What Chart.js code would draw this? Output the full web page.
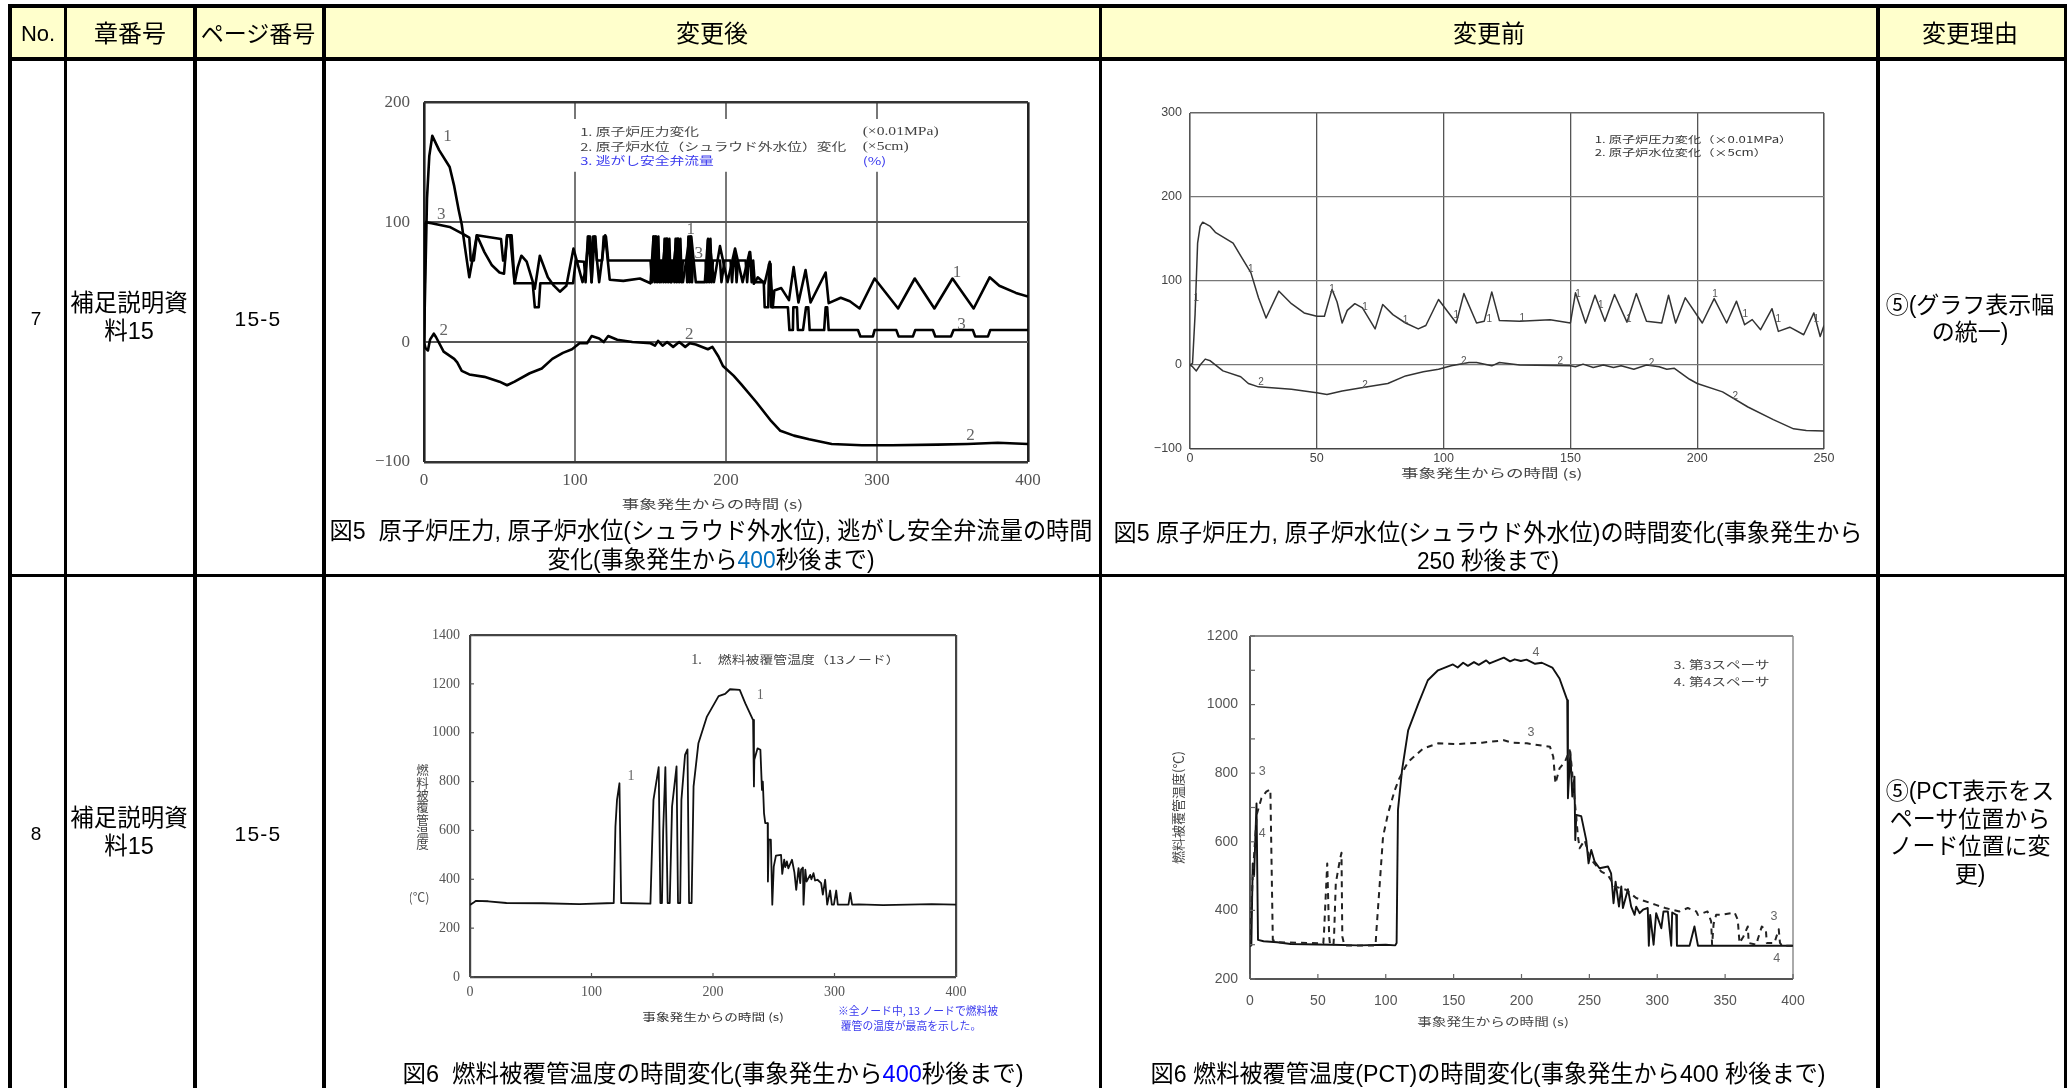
<!DOCTYPE html>
<html lang="ja"><head><meta charset="utf-8">
<script src="https://cdn.jsdelivr.net/npm/chart.js@4"></script>
<style>
html,body{margin:0;padding:0;background:#fff;width:2072px;height:1088px;overflow:hidden;font-family:"Liberation Sans","Noto Sans CJK JP",sans-serif;color:#000}
.b{position:absolute;background:#000}
.t{position:absolute;transform:translate(-50%,-50%);white-space:pre;line-height:1;filter:blur(.25px)}
canvas{position:absolute;display:block;filter:blur(.55px)}
</style></head><body>
<script>
// ---------- table ----------
const headers=["No.","章番号","ページ番号","変更後","変更前","変更理由"];
const rowNos=["7","8"];
const chapterLines=["補足説明資","料15"];
const pageRef="15-5";
const reason7=["⑤(グラフ表示幅","の統一)"];
const reason8=["⑤(PCT表示をス","ペーサ位置から","ノード位置に変","更)"];

// ---------- chart data: [time s, value] ----------
const pressure400=[[0,0],[1,60],[2,120],[3.5,155],[5.5,172],[7,168],[10,160],[17,146],[20,130],[23,110],[25,98],[27,80],[30,54],[35,89],[40,75],[45,64],[50,58],[53,57],[55,88],[57,89],[60,49],[62,62],[64.5,72],[68,67],[73.4,44.5],[76.7,72],[82,54],[86,47],[90,42],[94.3,47],[99,78],[105,50],[107,60],[109,88],[111,50],[113,88],[116,50],[118,70],[120,89],[123,52],[132,51],[143,53],[150,49],[152,88],[153.5,88],[157,50],[160,86],[161,86],[164,50],[167.3,86],[168.3,86],[171.5,50],[176,88],[177,88],[180,50],[186,50],[188,85],[189,85],[192,50],[196,80],[201,50],[206,78],[211,50],[215.6,75],[218.4,48.6],[221,54],[225.6,49],[229,67],[231,29],[232,43],[236.6,45],[241.7,35],[244.8,62.5],[248,33],[252.7,60],[256,33],[266,58],[268,32.5],[276,37],[282,34],[288.5,28],[298.4,53],[314,28],[325,53],[338,28],[350,53],[364,28],[374.6,54],[381,47],[392,41],[400,38]];
const level400=[[0,0],[1,-5],[2.6,-7],[4,2],[6.5,7],[8,4],[13,-8],[20,-14],[22,-17],[25,-24],[30,-27],[40,-29],[50,-33],[55,-36],[60,-33],[70,-26],[78,-22],[85,-14],[92,-9],[98,-6],[103,-1],[108,-1],[111,5],[116,3],[119,0],[122,5],[128,2],[138,0],[150,-1],[153,-3],[155,1],[158,-3],[161,0],[165,-4],[169,0],[173,-4],[176,-1],[180,-2],[188,-6],[191,-4],[195,-12],[198,-20],[205,-28],[210,-35],[220,-50],[230,-66],[236,-74],[245,-78],[255,-81],[270,-85],[290,-86],[310,-86],[340,-85.5],[360,-85],[380,-84],[400,-85]];
const srv400=[[0,0],[1,100],[5,99],[17,96],[26,90],[30,87],[31,68],[33,68],[35,89],[51,86],[52.4,68],[53.5,68],[55,89],[58,89],[60,49],[72,49],[73.4,29],[76,29],[77,49],[98.7,49],[100.5,67.5],[106,67],[107,50],[108.5,88],[110,88],[111,50],[112,88],[113.5,88],[114.5,68],[118,68],[119,88],[120.5,88],[122,68],[150,68],[151,50],[152,88],[152.8,50],[153.6,88],[154.4,50],[155.2,88],[156,50],[156.8,68],[157.5,68],[158.5,50],[159.3,86],[160.1,50],[160.9,86],[161.7,50],[162.5,86],[163.3,50],[164,68],[165,68],[165.8,50],[166.6,86],[167.4,50],[168.2,86],[169,50],[169.8,86],[170.6,50],[171.4,68],[173.5,68],[174.3,50],[175.1,88],[175.9,50],[176.7,88],[177.5,50],[178.3,68],[186.5,68],[187.3,50],[188.1,86],[188.9,50],[189.7,86],[190.5,50],[191.3,68],[196,68],[197,50],[199,68],[203,68],[204,50],[205,68],[206,75],[207,50],[208,68],[213,68],[214,50],[215,68],[216,75],[217,50],[218,68],[219,50],[222,50],[225,50],[225.6,29],[228,29],[228.5,65],[229.5,65],[230,29],[241,29],[242,10],[244.3,10],[244.6,29],[247,29],[247.6,10],[251,10],[253,29],[254.5,29],[255.4,10],[265,10],[266,29],[267,29],[268,10],[287.4,10],[289,4.7],[297.3,4.7],[298.4,10],[312.8,10],[314.3,4.7],[323.8,4.7],[325.3,10],[337,10],[338.6,4.7],[349,4.7],[350.7,10],[363.5,10],[365,4.7],[373.5,4.7],[375,10],[400,10]];

const pressure250=[[0,0],[1,2],[2,60],[3,145],[4,165],[5,170],[8,165],[10,158],[17,145],[20,130],[24,110],[27,80],[30,56],[35,88],[40,73],[45,62],[50,58],[53,58],[56,90],[58,75],[60,50],[62,65],[65,73],[68,68],[73,43],[76,72],[80,60],[85,50],[90,43],[93,47],[98,78],[105,50],[108,85],[113,50],[116,52],[119,87],[122,53],[130,52],[142,54],[150,50],[152,86],[156,50],[159.7,83],[163.6,52],[167.4,84],[172.3,51],[176,85],[180,52],[186,50],[188.7,83],[191.5,50],[195.3,80],[202,50],[206.7,79],[211.6,50],[215.5,76],[218.7,48],[221.7,54],[225,42],[229.5,67],[232,40],[236.5,45],[242,36],[246,62],[248.5,34],[250,47]];
const level250=[[0,0],[1,-2],[2.5,-7],[4,0],[6,7],[8,5],[13,-7],[20,-14],[23,-22],[27,-26],[40,-29],[50,-33],[54,-35],[60,-31],[70,-26],[78,-22],[85,-13],[92,-8],[98,-5],[103,-1],[110,3],[113,3],[119,-1],[122,3],[130,0],[150,-1],[152,-2],[155,1],[159,-3],[163,0],[167,-3],[170,-1],[175,-5],[180,0],[185,-2],[188,-5],[191,-4],[197,-17],[200,-22],[210,-32],[220,-50],[230,-65],[238,-76],[243,-78],[250,-78.5]];

const cladNode13=[[0,295],[3,305],[5,312],[15,310],[30,303],[60,302],[90,298],[118.3,303],[119.7,616],[121,725],[123,793],[124.4,303],[148.5,300],[150,562],[151,725],[155.3,859],[156.7,303],[158,303],[159,600],[160.8,859],[162.7,303],[164.4,303],[166.3,698],[170,862],[171.2,303],[173,303],[174,725],[177,909],[179,932],[180.3,303],[182.4,303],[184,780],[188,957],[195,1066],[204.6,1150],[210,1159],[214,1178],[222,1175],[226.6,1120],[233,1052],[233.7,780],[234,889],[236.7,936],[239,930],[240.3,766],[241,800],[242,670],[243,630],[245,630],[245.2,391],[246,562],[247.6,562],[248.8,296],[250,452],[251.8,497],[256,500],[257,422],[258.6,480],[259.5,450],[260.8,473],[262,445],[265,480],[267,428],[268.5,357],[270.4,446],[271.8,384],[272.5,440],[274,448],[274.5,296],[276,439],[277,391],[280,418],[281,400],[282.7,425],[284,395],[286,398],[289,384],[290.4,337],[292.3,398],[294,296],[296.4,354],[297.8,296],[299.5,296],[301.4,354],[302.7,296],[311.5,296],[313,344],[314.5,296],[320,297],[340,294],[360,296],[380,298],[400,296]];

const spacer4=[[0,296],[1,298],[2,537],[3,500],[4.8,712],[5.9,314],[10,310],[20,307],[30,302],[60,300],[80,298],[100,300],[107,298],[108,305],[109,693],[112,809],[116.5,925],[124,1003],[131,1071],[138.5,1100],[149.5,1117],[153,1108],[157,1122],[160.5,1113],[165,1124],[168.5,1116],[174,1129],[176.5,1120],[187,1137],[191.6,1126],[195,1132],[199.5,1127],[203.7,1131],[210,1119],[215,1122],[222.7,1108],[228,1076],[232,1032],[233.7,1013],[234.2,727],[236,862],[237.4,732],[239,790],[239.6,605],[240.4,678],[244,675],[247.7,605],[249.4,537],[251.4,576],[253.9,542],[257.5,523],[263.7,528],[266,508],[267.8,421],[269.3,484],[271.8,411],[273.5,470],[274.7,407],[278.4,462],[280.8,411],[283.3,387],[284.5,411],[287,392],[289.5,402],[293,407],[293.8,297],[294.8,387],[297.3,300],[299.2,392],[303,348],[304.6,397],[307.8,397],[310.3,297],[311,394],[314,387],[314.5,297],[323.8,297],[327.4,353],[330,297],[400,297]];
const spacer3=[[0,296],[2,500],[5,680],[8.4,727],[12,746],[15,753],[16.8,314],[20,307],[54,304],[54.5,334],[56.9,537],[58.3,324],[59,300],[61.5,300],[62,334],[63.2,479],[66.2,547],[67.4,568],[68,324],[69.5,298],[92.5,298],[93,334],[95.6,479],[98,615],[101.7,683],[106.7,751],[110,785],[114,815],[116.5,833],[127.5,872],[138.5,887],[153,885],[171,889],[187,896],[193,889],[204,887],[221,877],[223.4,848],[225,770],[228,814],[232,833],[235.5,867],[236.7,830],[241.6,615],[242.8,581],[246.5,605],[250,557],[253,540],[258.8,513],[263.7,503],[268.6,470],[277,460],[284.5,436],[289.4,429],[299,416],[306.6,406],[316.4,397],[322.5,407],[328.7,397],[330,387],[337,397],[339.7,368],[340.4,300],[341.5,360],[343.4,387],[347,387],[357,394],[359.3,373],[360.6,305],[363.5,324],[366.7,353],[367.4,305],[373,300],[374,315],[377,353],[380,344],[380.7,305],[386.3,305],[389.5,345],[390.4,305],[392,297],[400,297]];

// ---------- ticks ----------
const xTicks400=[0,100,200,300,400], yTicksA=[-100,0,100,200];
const xTicks250=[0,50,100,150,200,250], yTicksB=[-100,0,100,200,300];
const yTicksC=[0,200,400,600,800,1000,1200,1400];
const xTicksD=[0,50,100,150,200,250,300,350,400], yTicksD=[200,400,600,800,1000,1200];
const yMinorD=[300,500,700,900,1100];
const pen="#000";
const JP='"Noto Sans CJK JP"', SERIF='"Liberation Serif","Noto Sans CJK JP"', SANS='"Liberation Sans","Noto Sans CJK JP"';

// ---------- notes drawn at axis coordinates: [text, time, value] ----------
const tagsA=[["1",15.6,171],["3",11.4,106],["2",13,10],["1",176.6,94],["3",182,74],["2",175.6,6],["1",353,58],["3",356,15],["2",362,-78]];
const tagsB1=[["1",24,114],["1",2.5,79],["1",56,90],["1",69,69],["1",85,53],["1",105,59],["1",118,55],["1",131,56],["1",153,84],["1",162,71],["1",173,55],["1",207,84],["1",219,61],["1",232,54],["1",247,54]];
const tagsB2=[["2",28,-21],["2",69,-24],["2",108,5],["2",146,4],["2",182,2],["2",215,-37]];
const tagsC=[["1",132.5,823],["1",238.8,1152]];
const tagsD=[["3",9,804],["4",9,625],["4",210.6,1151],["3",207,918],["3",386,382],["4",388,259]];
const xTitle="事象発生からの時間 (s)";

const notes={
 id:"notes",
 beforeDatasetsDraw(c){
  const m=c.options.plugins.notes, o=c.ctx;
  if(m.mask){const X=c.scales.x,Y=c.scales.y,[a,b,d,e]=m.mask;
   o.save();o.fillStyle="#fff";o.fillRect(X.getPixelForValue(a),Y.getPixelForValue(b),X.getPixelForValue(d)-X.getPixelForValue(a),Y.getPixelForValue(e)-Y.getPixelForValue(b));o.restore();}
 },
 afterDraw(c){
  const m=c.options.plugins.notes, o=c.ctx, X=c.scales.x, Y=c.scales.y, A=c.chartArea;
  o.save();
  o.strokeStyle=m.tickColor||"#444";o.lineWidth=1.2;
  if(m.inward){
   for(const t of X.ticks){const p=X.getPixelForValue(t.value);o.beginPath();o.moveTo(p,A.bottom);o.lineTo(p,A.bottom-m.inward);o.stroke();}
   for(const t of Y.ticks.map(t=>t.value).concat(m.minor||[])){const p=Y.getPixelForValue(t);o.beginPath();o.moveTo(A.left,p);o.lineTo(A.left+m.inward,p);o.stroke();}
  }
  o.textBaseline="middle";
  for(const g of m.groups){
   o.font=g.font;o.fillStyle=g.color;o.textAlign=g.align||"center";
   for(const [s,t,v] of g.items){
    o.save();o.translate(X.getPixelForValue(t),Y.getPixelForValue(v));o.scale(g.sx||1,1);o.fillText(s,0,0);o.restore();
   }
  }
  if(m.stack){const g=m.stack;o.font=g.font;o.fillStyle=g.color;o.textAlign="center";
   [...g.text].forEach((ch,i)=>o.fillText(ch,X.getPixelForValue(g.t),Y.getPixelForValue(g.v)+i*g.step));}
  o.restore();
 }
};

function build(cfg){
 const pad={top:24,right:34},r=cfg.rect;
 const cv=document.createElement("canvas");
 const W=r[2]-r[0]+cfg.yW+pad.right, H=r[3]-r[1]+pad.top+cfg.xH;
 cv.width=W;cv.height=H;
 cv.style.left=(r[0]-cfg.yW)+"px";cv.style.top=(r[1]-pad.top)+"px";
 document.body.appendChild(cv);
 const gridOf=(lo,hi,ends,col)=>({
  drawTicks:false,
  color:c=>(c.tick&&(c.tick.value===lo))?ends.lo:(c.tick&&c.tick.value===hi)?ends.hi:col,
  lineWidth:c=>(c.tick&&(c.tick.value===lo||c.tick.value===hi))?cfg.frameW:cfg.gridW
 });
 new Chart(cv,{type:"line",
  data:{datasets:cfg.series.map(s=>({label:s.label,data:s.data.map(p=>({x:p[0],y:p[1]})),borderColor:s.color||pen,borderWidth:s.w,borderDash:s.dash||[],pointRadius:0,tension:0,fill:false,borderJoinStyle:"round",borderCapStyle:"butt"}))},
  plugins:[notes],
  options:{responsive:false,animation:false,devicePixelRatio:1,
   layout:{padding:{top:pad.top,right:pad.right,left:0,bottom:0}},
   plugins:{legend:{display:false},tooltip:{enabled:false},notes:cfg.notes},
   scales:{
    x:{type:"linear",min:cfg.xT[0],max:cfg.xT[cfg.xT.length-1],
     afterBuildTicks:a=>{a.ticks=cfg.xT.map(v=>({value:v}))},
     afterFit:a=>{a.height=cfg.xH},
     border:{display:false},
     grid:gridOf(cfg.xT[0],cfg.xT[cfg.xT.length-1],{lo:cfg.frameL,hi:cfg.frameR},cfg.gridV),
     ticks:{font:cfg.tickFont,color:cfg.tickColor,padding:cfg.xPad,maxRotation:0,autoSkip:false}},
    y:{type:"linear",min:cfg.yT[0],max:cfg.yT[cfg.yT.length-1],
     afterBuildTicks:a=>{a.ticks=cfg.yT.map(v=>({value:v}))},
     afterFit:a=>{a.width=cfg.yW},
     border:{display:false},
     title:cfg.yTitle||{display:false},
     grid:gridOf(cfg.yT[0],cfg.yT[cfg.yT.length-1],{lo:cfg.frameB,hi:cfg.frameT},cfg.gridH),
     ticks:{font:cfg.tickFont,color:cfg.tickColor,padding:cfg.yPad,autoSkip:false,callback:v=>String(v).replace("-","\u2212")}}
   }}});
}

build({rect:[424.3,101.7,1028.4,461.7],yW:54,xH:52,
 xT:xTicks400,yT:yTicksA,gridV:"#777",gridH:"#555",gridW:2,frameW:2.6,frameL:"#222",frameR:"#222",frameT:"#333",frameB:"#333",
 tickFont:{family:SERIF,size:17},tickColor:"#555",xPad:8,yPad:14,
 series:[{label:"原子炉圧力変化",data:pressure400,w:2.6},{label:"原子炉水位(シュラウド外水位)変化",data:level400,w:2.6},{label:"逃がし安全弁流量",data:srv400,w:2.6}],
 notes:{mask:[98,186,302,142],groups:[
  {font:`17px ${SERIF}`,color:"#666",items:tagsA},
  {font:`11px ${JP}`,sx:1.34,color:"#444",align:"left",items:[["1. 原子炉圧力変化",103.4,175],["2. 原子炉水位（シュラウド外水位）変化",103.4,163]]},
  {font:`11px ${JP}`,sx:1.34,color:"#3a3aee",align:"left",items:[["3. 逃がし安全弁流量",103.4,151.5],["(%)",290.5,151.5]]},
  {font:`12px ${SERIF}`,sx:1.3,color:"#444",align:"left",items:[["(×0.01MPa)",290.5,175],["(×5cm)",290.5,163]]},
  {font:`12.5px ${JP}`,sx:1.4,color:"#444",items:[[xTitle,191,-135]]}
 ]}});

build({rect:[1189.6,112.7,1824,449.3],yW:40,xH:36,
 xT:xTicks250,yT:yTicksB,gridV:"#555",gridH:"#777",gridW:1.3,frameW:1.6,frameL:"#555",frameR:"#555",frameT:"#666",frameB:"#444",
 tickFont:{family:SANS,size:12.5},tickColor:"#444",xPad:2,yPad:8,
 series:[{label:"原子炉圧力変化",data:pressure250,w:1.5,color:"#333"},{label:"原子炉水位変化",data:level250,w:1.5,color:"#333"}],
 notes:{groups:[
  {font:`10px ${SANS}`,color:"#555",items:tagsB1.concat(tagsB2)},
  {font:`9.5px ${JP}`,sx:1.39,color:"#333",align:"left",items:[["1. 原子炉圧力変化（×0.01MPa）",159.6,268],["2. 原子炉水位変化（×5cm）",159.6,253]]},
  {font:`12.5px ${JP}`,sx:1.4,color:"#444",items:[[xTitle,119,-129]]}
 ]}});

build({rect:[469.5,635,955.7,977.3],yW:60,xH:50,
 xT:xTicks400,yT:yTicksC,gridV:"transparent",gridH:"transparent",gridW:0,frameW:2.2,frameL:"#444",frameR:"#444",frameT:"#444",frameB:"#444",
 tickFont:{family:SERIF,size:14},tickColor:"#555",xPad:7,yPad:10,
 series:[{label:"燃料被覆管温度(13ノード)",data:cladNode13,w:1.8,color:"#111"}],
 notes:{inward:4,tickColor:"#555",groups:[
  {font:`14px ${SERIF}`,color:"#666",items:tagsC},
  {font:`14px ${SERIF}`,color:"#444",align:"left",items:[["1.",182,1298]]},
  {font:`11px ${JP}`,sx:1.26,color:"#444",align:"left",items:[["燃料被覆管温度（13ノード）",204,1298]]},
  {font:`10.5px ${JP}`,sx:1.3,color:"#333",items:[[xTitle,200,-163]]},
  {font:`12.5px ${JP}`,color:"#555",items:[["(℃)",-42,327]]}
 ],stack:{text:"燃料被覆管温度",t:-39,v:845,step:12.3,font:`12.5px ${JP}`,color:"#444"}}});

build({rect:[1250,635.7,1793.5,979.3],yW:80,xH:54,
 xT:xTicksD,yT:yTicksD,gridV:"transparent",gridH:"transparent",gridW:0,frameW:2,frameL:"#555",frameR:"#aaa",frameT:"#888",frameB:"#555",
 tickFont:{family:SANS,size:14},tickColor:"#555",xPad:14,yPad:12,
 yTitle:{display:true,text:"燃料被覆管温度(℃)",font:{family:JP,size:13},color:"#444",padding:{top:0,bottom:0}},
 series:[{label:"第3スペーサ",data:spacer3,w:2,dash:[6,5],color:"#222"},{label:"第4スペーサ",data:spacer4,w:1.9,color:"#111"}],
 notes:{inward:5,minor:yMinorD,tickColor:"#666",groups:[
  {font:`11px ${JP}`,sx:1.32,color:"#444",align:"left",items:[["3. 第3スペーサ",312,1115],["4. 第4スペーサ",312,1067]]},
  {font:`12.5px ${SANS}`,color:"#666",items:tagsD},
  {font:`11px ${JP}`,sx:1.33,color:"#444",items:[[xTitle,179,75]]}
 ]}});

// ---------- table drawing ----------
function box(x,y,w,h,c){const d=document.createElement("div");d.className="b";d.style.cssText+=`left:${x}px;top:${y}px;width:${w}px;height:${h}px;background:${c||"#000"}`;document.body.appendChild(d);}
function txt(x,y,html,size,extra){const d=document.createElement("div");d.className="t";d.innerHTML=html;d.style.cssText+=`left:${x}px;top:${y}px;font-size:${size}px;${extra||""}`;document.body.appendChild(d);return d;}
box(11,7,2053,50,"#FFFFCC");
[[8,3.5],[63.5,3.5],[193,3.5],[322,3.5],[1099,3],[1876,3.5],[2064,3]].forEach(v=>box(v[0],4,v[1],1084));
[[4,3.5],[57,4],[573.5,3]].forEach(h=>box(8,h[0],2059,h[1]));
const headX=[38,130,258,712,1489,1970];
const headSize=[22,24,23,24,24,24];
headers.forEach((h,i)=>txt(headX[i],34,h,headSize[i]));
const rowY=[318,833];
rowNos.forEach((n,i)=>{
 txt(36,rowY[i],n,19);
 chapterLines.forEach((s,j)=>txt(129,rowY[i]-14+j*28,s,23.5));
 txt(258,rowY[i],pageRef,21,"letter-spacing:1.2px");
});
reason7.forEach((s,i)=>txt(1970,305+i*27,s,23));
reason8.forEach((s,i)=>txt(1970,791+i*27.5,s,23));
const capFont='font-family:"Liberation Sans","Noto Sans CJK JP";';
const blue='<span style="color:#0070c0">400</span>';
const blue2='<span style="color:#0000ff">400</span>';
function cap(x,y,html,width){const d=txt(x,y,html,23.5,capFont);const w=d.getBoundingClientRect().width;d.style.transform=`translate(-50%,-50%) scaleX(${width/w})`;}
cap(711,532,"図5  原子炉圧力, 原子炉水位(シュラウド外水位), 逃がし安全弁流量の時間",763);
cap(711,561,`変化(事象発生から${blue}秒後まで)`,327);
cap(1488,534,"図5 原子炉圧力, 原子炉水位(シュラウド外水位)の時間変化(事象発生から",749);
cap(1488,562,"250 秒後まで)",142);
cap(713,1075,`図6  燃料被覆管温度の時間変化(事象発生から${blue2}秒後まで)`,621);
cap(1488,1075,"図6 燃料被覆管温度(PCT)の時間変化(事象発生から400 秒後まで)",675);
txt(918,1010,"※全ノード中, 13 ノードで燃料被",10.8,'font-family:"Noto Sans CJK JP";color:#3a3aee');
txt(911,1025,"覆管の温度が最高を示した。",10.8,'font-family:"Noto Sans CJK JP";color:#3a3aee');
</script>
</body></html>
